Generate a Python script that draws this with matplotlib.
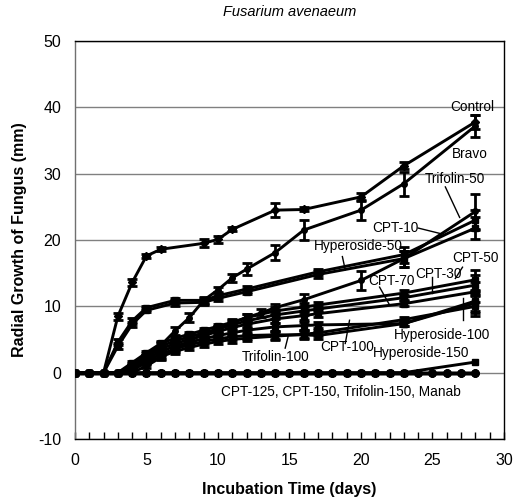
import matplotlib
matplotlib.use("Agg")
import matplotlib.pyplot as plt
from matplotlib.ticker import MultipleLocator
import numpy as np

plt.rcParams['font.family'] = ['Liberation Sans', 'DejaVu Sans']
plt.rcParams['axes.unicode_minus'] = False

# ---------------- data ----------------
days_daily = list(range(0, 29))
zero_vals = [0.0] * 29
zero_names = ["CPT-125", "CPT-150", "Trifolin-150", "Manab"]

hyp150_days = list(range(0, 24)) + [28]
hyp150_vals = [0.0] * 24 + [1.6]

control_days = [0, 1, 2, 3, 4, 5, 6, 9, 10, 11, 14, 16, 20, 23, 28]
control_vals = [0, 0, 0, 8.5, 13.6, 17.6, 18.6, 19.5, 20.1, 21.6, 24.5, 24.6, 26.5, 31.2, 37.8]
control_err = [0, 0, 0, 0.5, 0.5, 0.3, 0.3, 0.6, 0.5, 0.3, 1.1, 0.3, 0.6, 0.5, 1.0]

bravo_days = [0, 1, 2, 3, 4, 5, 6, 7, 8, 9, 10, 11, 12, 14, 16, 20, 23, 28]
bravo_vals = [0, 0, 0, 0, 0, 2.3, 4.1, 6.3, 8.3, 10.9, 12.5, 14.3, 15.6, 18.1, 21.5, 24.5, 28.5, 37.2]
bravo_err = [0, 0, 0, 0, 0, 0.3, 0.5, 0.6, 0.7, 0.5, 0.4, 0.6, 0.9, 1.1, 1.5, 1.5, 1.8, 1.7]

mid_days = [0, 1, 2, 3, 4, 5, 7, 9, 10, 12, 17, 23, 28]
cpt10_vals = [0, 0, 0, 4.6, 7.8, 9.8, 10.9, 10.9, 11.6, 12.6, 15.2, 17.8, 23.0]
cpt10_err = [0, 0, 0, 0.5, 0.4, 0.3, 0.4, 0.4, 0.4, 0.4, 0.5, 1.2, 1.5]
hyp50_vals = [0, 0, 0, 4.0, 7.3, 9.4, 10.5, 10.6, 11.2, 12.2, 14.8, 17.2, 21.8]
hyp50_err = [0, 0, 0, 0.5, 0.4, 0.3, 0.4, 0.4, 0.4, 0.4, 0.5, 1.2, 1.6]

trif50_days = [0, 1, 2, 3, 4, 5, 6, 7, 8, 9, 10, 11, 12, 13, 14, 16, 20, 23, 28]
trif50_vals = [0, 0, 0, 0, 0, 1.0, 2.3, 3.6, 4.8, 5.8, 6.6, 7.5, 8.3, 9.0, 9.8, 11.0, 13.9, 17.2, 24.3]
trif50_err = [0, 0, 0, 0, 0, 0.3, 0.4, 0.5, 0.5, 0.5, 0.5, 0.5, 0.6, 0.6, 0.6, 0.9, 1.4, 1.2, 2.6]

low_days = [0, 1, 2, 3, 4, 5, 6, 7, 8, 9, 10, 11, 12, 14, 16, 17, 23, 28]
cpt50_vals = [0, 0, 0, 0, 1.5, 3.0, 4.4, 5.2, 5.8, 6.4, 7.0, 7.6, 8.3, 9.3, 9.9, 10.2, 12.0, 14.0]
cpt30_vals = [0, 0, 0, 0, 1.2, 2.7, 4.0, 4.8, 5.4, 6.0, 6.6, 7.2, 7.8, 8.7, 9.3, 9.6, 11.3, 13.2]
cpt70_vals = [0, 0, 0, 0, 1.0, 2.4, 3.6, 4.4, 5.0, 5.6, 6.2, 6.8, 7.3, 8.1, 8.6, 8.9, 10.4, 12.2]
hyp100_vals = [0, 0, 0, 0, 0.8, 2.1, 3.2, 4.0, 4.6, 5.1, 5.6, 6.0, 6.4, 6.9, 7.1, 7.2, 7.4, 10.5]
cpt100_vals = [0, 0, 0, 0, 0.6, 1.8, 2.8, 3.6, 4.2, 4.7, 5.1, 5.4, 5.6, 5.7, 5.7, 5.6, 7.4, 10.8]
trif100_vals = [0, 0, 0, 0, 0.4, 1.5, 2.4, 3.2, 3.8, 4.3, 4.7, 5.0, 5.2, 5.5, 5.8, 6.0, 8.0, 10.0]
low_err = [0, 0, 0, 0, 0.3, 0.3, 0.4, 0.4, 0.4, 0.4, 0.4, 0.5, 0.5, 0.6, 0.6, 0.5, 0.4, 1.5]

# label text, text position (x, y), leader line start/end
label_texts = ["Control", "Bravo", "Trifolin-50", "CPT-10", "Hyperoside-50", "CPT-50",
               "CPT-30", "CPT-70", "Hyperoside-100", "CPT-100", "Hyperoside-150",
               "Trifolin-100", "CPT-125, CPT-150, Trifolin-150, Manab"]
label_x = [27.8, 27.6, 26.6, 22.4, 19.8, 28.0, 25.4, 22.1, 25.7, 19.0, 24.2, 14.0, 18.6]
label_y = [40.0, 33.0, 29.2, 21.8, 19.1, 17.3, 14.8, 13.8, 5.7, 3.8, 2.9, 2.3, -2.9]
leader_x0 = [None, None, 25.9, 24.0, 18.7, 27.1, 25.0, 21.3, 27.1, 18.9, None, 14.7, None]
leader_y0 = [None, None, 28.0, 21.8, 17.5, 15.9, 14.4, 12.9, 7.9, 4.4, None, 3.7, None]
leader_x1 = [None, None, 26.9, 25.5, 18.9, 26.6, 25.0, 22.0, 27.1, 19.2, None, 14.9, None]
leader_y1 = [None, None, 23.4, 21.0, 15.5, 14.2, 12.0, 10.2, 11.2, 7.9, None, 5.4, None]

# ---------------- figure ----------------
fig = plt.figure(figsize=(5.16, 5.0), dpi=100)
ax = fig.add_axes([0.1453, 0.122, 0.8314, 0.796])

ax.set_xlim(0, 30)
ax.set_ylim(-10, 50)
ax.yaxis.set_major_locator(MultipleLocator(10))
ax.xaxis.set_major_locator(MultipleLocator(5))
ax.xaxis.set_minor_locator(MultipleLocator(1))
ax.grid(axis='y', color='#808080', lw=1.0, zorder=0)
ax.set_axisbelow(True)

for s in ax.spines.values():
    s.set_color('black')
    s.set_linewidth(1.0)
ax.spines['left'].set_color('#707070')

ax.tick_params(axis='x', which='both', direction='in', length=5, width=1, labelsize=11.5, pad=10)
ax.tick_params(axis='y', which='major', direction='out', length=0, labelsize=11.5, pad=10)

ebkw = dict(color='black', lw=2.1, elinewidth=2.0, capsize=3.5, capthick=2.0, zorder=3)

ax.errorbar(control_days, control_vals, yerr=control_err, marker='D', ms=4, **ebkw)
ax.errorbar(bravo_days, bravo_vals, yerr=bravo_err, marker='o', ms=4, **ebkw)
ax.errorbar(mid_days, cpt10_vals, yerr=cpt10_err, marker='s', ms=4, **ebkw)
ax.errorbar(mid_days, hyp50_vals, yerr=hyp50_err, marker='s', ms=4, **ebkw)
ax.errorbar(trif50_days, trif50_vals, yerr=trif50_err, marker='o', ms=4, **ebkw)
for vals in [cpt50_vals, cpt30_vals, cpt70_vals, hyp100_vals, cpt100_vals, trif100_vals]:
    ax.errorbar(low_days, vals, yerr=low_err, marker='s', ms=5, **ebkw)
ax.plot(hyp150_days, hyp150_vals, color='black', lw=2.1, marker='s', ms=5, zorder=3)
for name in zero_names:
    ax.plot(days_daily, zero_vals, color='black', lw=2.4, marker='o', ms=5, zorder=4)

for i, t in enumerate(label_texts):
    ax.text(label_x[i], label_y[i], t, ha='center', va='center', fontsize=9.8, zorder=6)
    if leader_x0[i] is not None:
        ax.plot([leader_x0[i], leader_x1[i]], [leader_y0[i], leader_y1[i]],
                color='black', lw=1.0, zorder=6)

ax.set_title("Fusarium avenaeum", fontsize=10.5, style='italic', pad=18)
ax.set_xlabel("Incubation Time (days)", fontsize=11.5, fontweight='bold', labelpad=10)
ax.set_ylabel("Radial Growth of Fungus (mm)", fontsize=11.5, fontweight='bold', labelpad=8)

fig.savefig("out.png", dpi=100)
